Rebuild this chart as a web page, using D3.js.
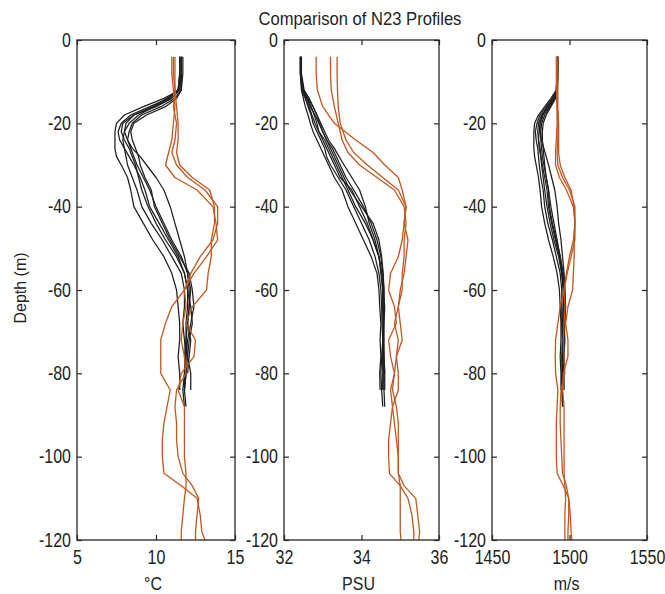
<!DOCTYPE html>
<html>
<head>
<meta charset="utf-8">
<script src="https://cdn.jsdelivr.net/npm/d3@7"></script>
<style>
  html, body { margin: 0; padding: 0; background: #fff; }
  svg { display: block; font-family: "Liberation Sans", Arial, sans-serif; }
</style>
</head>
<body>
<script>
// ---------------- DATA ----------------
const title = "Comparison of N23 Profiles";
const depthTicks = [0, -20, -40, -60, -80, -100, -120];
const tempTicks = [5, 10, 15];
const salTicks = [32, 34, 36];
const speedTicks = [1450, 1500, 1550];
const unitLabels = ["°C", "PSU", "m/s"];

// depth grids (m)
const blackDepth = [-4, -8, -12, -14, -16, -18, -20, -22, -24, -26, -28, -30, -33, -36, -40, -44, -48, -52, -56, -60, -64, -68, -72, -76, -80, -84, -88];
const orangeDepth = [-4, -8, -12, -16, -20, -24, -27, -30, -33, -36, -40, -44, -48, -52, -56, -60, -64, -68, -72, -76, -80, -84, -88, -92, -96, -100, -104, -107, -110, -114, -118, -120];

// temperature (°C)
const tempBlack = [
  [11.6, 11.6, 11.5, 10.5, 9.2, 8.0, 7.5, 7.4, 7.4, 7.4, 7.5, 7.8, 8.2, 8.4, 8.6, 9.2, 9.8, 10.5, 11.0, 11.3, 11.4, 11.5, 11.5, 11.4, 11.5, 11.5, null],
  [11.5, 11.5, 11.4, 10.8, 9.6, 8.4, 7.8, 7.6, 7.7, 8.0, 8.1, 8.2, 8.5, 8.8, 9.1, 9.7, 10.4, 11.0, 11.6, 11.8, 11.8, 11.7, 11.8, 11.9, 11.8, 11.7, 11.8],
  [11.6, 11.6, 11.5, 11.0, 10.0, 8.6, 7.9, 7.8, 8.0, 8.3, 8.5, 8.7, 8.9, 9.1, 9.5, 10.0, 10.6, 11.3, 11.8, 12.0, 12.0, 11.9, 11.9, 12.0, 11.9, 11.8, null],
  [11.6, 11.6, 11.4, 10.7, 9.8, 8.6, 8.1, 8.0, 8.2, 8.5, 9.0, 9.4, 10.0, 10.5, 10.9, 11.2, 11.5, 11.8, 12.0, 12.1, 12.1, 12.0, 12.2, 12.1, 12.0, null, null],
  [11.5, 11.5, 11.4, 10.9, 9.9, 8.9, 8.3, 8.0, 7.9, 8.0, 8.3, 8.6, 9.0, 9.3, 9.6, 10.2, 10.8, 11.4, 11.8, 12.0, 12.2, 12.3, 12.1, 12.0, 12.2, 12.2, null],
  [11.6, 11.6, 11.6, 11.2, 10.3, 9.1, 8.5, 8.3, 8.2, 8.4, 8.6, 8.8, 9.2, 9.6, 10.0, 10.5, 11.0, 11.6, 12.0, 12.2, 12.1, 12.0, 11.9, 11.8, 11.9, 11.8, 11.9],
  [11.7, 11.7, 11.6, 11.3, 10.6, 9.4, 8.6, 8.4, 8.5, 8.7, 8.9, 9.0, 9.3, 9.7, 9.9, 10.4, 10.9, 11.5, 12.1, 12.3, 12.4, 12.2, 12.0, 11.9, 11.8, 11.8, null]
];
const tempOrange = [
  [11.0, 11.0, 11.1, 11.2, 11.1, 11.0, 10.8, 10.6, 11.2, 12.6, 13.6, 13.8, 13.9, 13.2, 12.4, 11.8, 11.0, 10.6, 10.3, 10.3, 10.3, 10.9, 10.7, 10.5, 10.4, 10.4, 10.5, 11.6, 12.6, 12.8, 12.9, 13.1],
  [11.2, 11.2, 11.2, 11.3, 11.4, 11.4, 11.3, 11.5, 12.3, 13.4, 13.7, 13.7, 13.5, 13.5, 13.3, 13.2, 12.3, 11.9, 12.5, 12.4, 11.6, 11.4, 11.8, 11.8, 11.8, 11.8, 11.9, 11.9, 11.8, 11.7, 11.6, 11.6],
  [11.1, 11.1, 11.2, 11.1, 11.3, 11.2, 11.0, 11.3, 12.0, 13.1, 13.9, 13.9, 13.6, 12.8, 12.2, 11.8, 11.9, 11.7, 11.6, 11.8, 11.9, 11.3, 11.2, 11.3, 11.3, 11.4, 11.7, 12.3, 12.7, 12.6, 12.5, 12.5]
];

// salinity (PSU)
const salBlack = [
  [32.42, 32.42, 32.45, 32.5, 32.55, 32.62, 32.68, 32.75, 32.85, 32.95, 33.05, 33.15, 33.3, 33.5, 33.65, 33.85, 34.05, 34.25, 34.4, 34.45, 34.47, 34.5, 34.48, 34.5, 34.47, 34.48, null],
  [32.43, 32.43, 32.46, 32.55, 32.62, 32.7, 32.75, 32.85, 32.95, 33.05, 33.1, 33.2, 33.4, 33.6, 33.8, 34.0, 34.2, 34.35, 34.45, 34.5, 34.52, 34.53, 34.55, 34.52, 34.5, 34.52, 34.55],
  [32.44, 32.44, 32.5, 32.6, 32.7, 32.78, 32.85, 32.9, 33.0, 33.1, 33.2, 33.3, 33.45, 33.75, 33.95, 34.15, 34.3, 34.45, 34.52, 34.55, 34.55, 34.56, 34.55, 34.55, 34.56, 34.55, null],
  [32.42, 32.42, 32.48, 32.58, 32.68, 32.8, 32.9, 33.0, 33.1, 33.25, 33.35, 33.45, 33.6, 33.8, 34.05, 34.25, 34.4, 34.5, 34.55, 34.58, 34.58, 34.57, 34.56, 34.58, 34.6, null, null],
  [32.43, 32.43, 32.5, 32.62, 32.75, 32.85, 32.95, 33.05, 33.15, 33.3, 33.42, 33.55, 33.75, 33.95, 34.1, 34.2, 34.35, 34.45, 34.5, 34.55, 34.6, 34.58, 34.57, 34.58, 34.6, 34.6, null],
  [32.45, 32.45, 32.52, 32.65, 32.75, 32.85, 32.92, 33.0, 33.1, 33.2, 33.3, 33.4, 33.55, 33.7, 34.0, 34.3, 34.45, 34.52, 34.56, 34.58, 34.58, 34.57, 34.58, 34.57, 34.58, 34.58, 34.6],
  [32.44, 32.44, 32.47, 32.55, 32.65, 32.72, 32.8, 32.9, 33.05, 33.15, 33.25, 33.35, 33.5, 33.65, 33.85, 34.1, 34.3, 34.45, 34.52, 34.55, 34.55, 34.56, 34.56, 34.55, 34.55, 34.55, null]
];
const salOrange = [
  [32.83, 32.83, 32.86, 33.0, 33.3, 33.85, 34.3, 34.6, 34.95, 35.05, 35.15, 35.1, 35.05, 34.95, 34.75, 34.7, 34.85, 34.9, 34.7, 34.75, 34.85, 34.75, 34.8, 34.75, 34.7, 34.7, 34.72, 35.0, 35.2, 35.3, 35.35, 35.35],
  [33.2, 33.2, 33.22, 33.3, 33.4, 33.5, 33.65, 33.95, 34.4, 34.85, 35.1, 35.15, 35.1, 35.1, 35.05, 35.05, 34.95, 34.85, 34.95, 34.9, 34.85, 34.8, 34.9, 34.95, 34.95, 34.95, 34.95, 35.1, 35.4, 35.45, 35.5, 35.48],
  [33.37, 33.37, 33.38, 33.4, 33.45, 33.6, 33.8, 34.15, 34.55, 34.95, 35.15, 35.1, 35.2, 35.15, 35.1, 35.0, 34.95, 35.0, 35.05, 34.9, 34.95, 34.95, 34.8, 34.85, 34.9, 34.95, 34.95, 35.0, 35.0, 35.0, 35.0, 35.02]
];

// sound speed (m/s)
const speedBlack = [
  [1492, 1492, 1491.5, 1488, 1484, 1480, 1477.5, 1477, 1477, 1477, 1477.5, 1478.5, 1480, 1481, 1482, 1484, 1486.5, 1489.5, 1492, 1493.5, 1494, 1494.5, 1494.5, 1494, 1494.5, 1494.5, null],
  [1492, 1492, 1491.5, 1489, 1485, 1481, 1479, 1478, 1478.5, 1479.5, 1480, 1480.5, 1481.5, 1483, 1484, 1486, 1489, 1491.5, 1494, 1495, 1495, 1495, 1495.5, 1495.5, 1495, 1495, 1495.5],
  [1492.5, 1492.5, 1492, 1490, 1486, 1482, 1480, 1479.5, 1480, 1481, 1481.5, 1482, 1483, 1484, 1485.5, 1487.5, 1490, 1493, 1495, 1496, 1496, 1495.5, 1495.5, 1496, 1495.5, 1495, null],
  [1492, 1492, 1491.5, 1489, 1486, 1482.5, 1481, 1481, 1482, 1483.5, 1485, 1486.5, 1488.5, 1490.5, 1492, 1493, 1494.5, 1495.5, 1496.5, 1497, 1497, 1496.5, 1497, 1496.5, 1496, null, null],
  [1492, 1492, 1492, 1490, 1487, 1483, 1481, 1480.5, 1480, 1480.5, 1481.5, 1482.5, 1484, 1485.5, 1486.5, 1488.5, 1491, 1493.5, 1495, 1496, 1496.5, 1497, 1496.5, 1496, 1496.5, 1496.5, null],
  [1492.5, 1492.5, 1492, 1490.5, 1487.5, 1484, 1482, 1481.5, 1481.5, 1482, 1482.5, 1483.5, 1485, 1486.5, 1488, 1490, 1492, 1494, 1495.5, 1496.5, 1496, 1496, 1495.5, 1495, 1495.5, 1495.5, 1495.8],
  [1492.5, 1492.5, 1492.2, 1491, 1488, 1485, 1483, 1482.5, 1482.5, 1483, 1483.5, 1484, 1485, 1486.5, 1487, 1489, 1491.5, 1494, 1496, 1497, 1497.5, 1497, 1496, 1495.5, 1495.5, 1495.5, null]
];
const speedOrange = [
  [1491.5, 1491.5, 1491.5, 1492, 1492, 1491.5, 1491, 1491, 1493.5, 1498, 1502.5, 1503.5, 1503.5, 1501, 1498.5, 1496.5, 1494, 1492.5, 1491, 1490.8, 1491, 1492.5, 1492, 1491.5, 1491.5, 1491.5, 1492, 1496, 1499.5, 1500.5, 1501, 1501.5],
  [1492.5, 1492.5, 1492.5, 1492.5, 1493, 1493, 1493, 1494, 1497, 1501, 1503, 1503.5, 1503, 1503, 1502.5, 1502, 1499, 1497.5, 1499, 1499, 1496, 1495.5, 1496.5, 1496.5, 1496.5, 1496.5, 1496.5, 1497, 1497.5, 1497, 1497, 1497],
  [1492, 1492, 1492, 1492, 1492.5, 1492.5, 1492, 1492.5, 1495.5, 1500, 1503.5, 1503.5, 1502.5, 1500, 1498, 1496.5, 1497, 1496.5, 1496, 1496.5, 1497, 1494.5, 1494, 1494, 1494.5, 1495, 1495.5, 1498, 1499.5, 1499.5, 1499, 1499]
];

// ---------------- DRAW ----------------
const W = 665, H = 594;
const svg = d3.select("body").append("svg").attr("width", W).attr("height", H);

const plotTop = 40, plotBottom = 540;
const y = d3.scaleLinear().domain([0, -120]).range([plotTop, plotBottom]);

const panels = [
  { x0: 77, x1: 235, dom: [5, 15], ticks: tempTicks, unit: unitLabels[0], black: tempBlack, orange: tempOrange },
  { x0: 284, x1: 439, dom: [32, 36], ticks: salTicks, unit: unitLabels[1], black: salBlack, orange: salOrange },
  { x0: 492, x1: 647, dom: [1450, 1550], ticks: speedTicks, unit: unitLabels[2], black: speedBlack, orange: speedOrange }
];

const axisColor = "#262626";
const blackColor = "#1e1e1e";
const orangeColor = "#c1571f";
const SY = 1.3; // vertical stretch of the scanned glyphs
const fmt = d => String(d); // plain hyphen minus, no grouping

function styleAxis(g) {
  g.select(".domain").remove();
  g.selectAll(".tick line").attr("stroke", axisColor).attr("stroke-width", 1.2);
  g.selectAll("text").attr("fill", "#222").style("font-size", "16px").style("font-family", "'Liberation Sans', Arial, sans-serif");
}

panels.forEach(p => {
  const x = d3.scaleLinear().domain(p.dom).range([p.x0, p.x1]);
  const g = svg.append("g");

  const line = d3.line()
    .defined(d => d[0] != null)
    .x(d => x(d[0]))
    .y(d => y(d[1]));

  p.black.forEach(vals => {
    g.append("path")
      .datum(vals.map((v, i) => [v, blackDepth[i]]))
      .attr("d", line)
      .attr("fill", "none")
      .attr("stroke", blackColor)
      .attr("stroke-width", 1.25)
      .attr("stroke-linejoin", "round");
  });
  p.orange.forEach(vals => {
    g.append("path")
      .datum(vals.map((v, i) => [v, orangeDepth[i]]))
      .attr("d", line)
      .attr("fill", "none")
      .attr("stroke", orangeColor)
      .attr("stroke-width", 1.3)
      .attr("stroke-linejoin", "round");
  });

  g.append("rect")
    .attr("x", p.x0).attr("y", plotTop)
    .attr("width", p.x1 - p.x0).attr("height", plotBottom - plotTop)
    .attr("fill", "none").attr("stroke", axisColor).attr("stroke-width", 1.3);

  const gb = g.append("g").attr("transform", `translate(0,${plotBottom})`)
    .call(d3.axisBottom(x).tickValues(p.ticks).tickFormat(fmt).tickSizeInner(-5).tickSizeOuter(0).tickPadding(0));
  styleAxis(gb);
  gb.selectAll("text").attr("y", 0).attr("dy", "0.72em").attr("transform", `translate(0,9.5) scale(1,${SY})`);

  const gl = g.append("g").attr("transform", `translate(${p.x0},0)`)
    .call(d3.axisLeft(y).tickValues(depthTicks).tickFormat(fmt).tickSizeInner(-5).tickSizeOuter(0).tickPadding(0));
  styleAxis(gl);
  gl.selectAll("text").attr("x", -6).attr("y", 0).attr("dy", "0.3em").attr("transform", `scale(1,${SY})`);

  const gt = g.append("g").attr("transform", `translate(0,${plotTop})`)
    .call(d3.axisTop(x).tickValues(p.ticks).tickSizeInner(-5).tickSizeOuter(0).tickFormat(""));
  styleAxis(gt);
  const gr = g.append("g").attr("transform", `translate(${p.x1},0)`)
    .call(d3.axisRight(y).tickValues(depthTicks).tickSizeInner(-5).tickSizeOuter(0).tickFormat(""));
  styleAxis(gr);

  svg.append("text")
    .attr("transform", `translate(${(p.x0 + p.x1) / 2 - 3},590) scale(1,1.2)`)
    .attr("text-anchor", "middle")
    .attr("fill", "#222")
    .style("font-size", "16px")
    .text(p.unit);
});

svg.append("text")
  .attr("transform", `translate(360,25) scale(1,1.15)`)
  .attr("text-anchor", "middle")
  .attr("fill", "#222")
  .style("font-size", "16.6px")
  .text(title);

svg.append("text")
  .attr("transform", `translate(26,288) rotate(-90)`)
  .attr("text-anchor", "middle")
  .attr("fill", "#222")
  .style("font-size", "16px")
  .text("Depth (m)");
</script>
</body>
</html>
